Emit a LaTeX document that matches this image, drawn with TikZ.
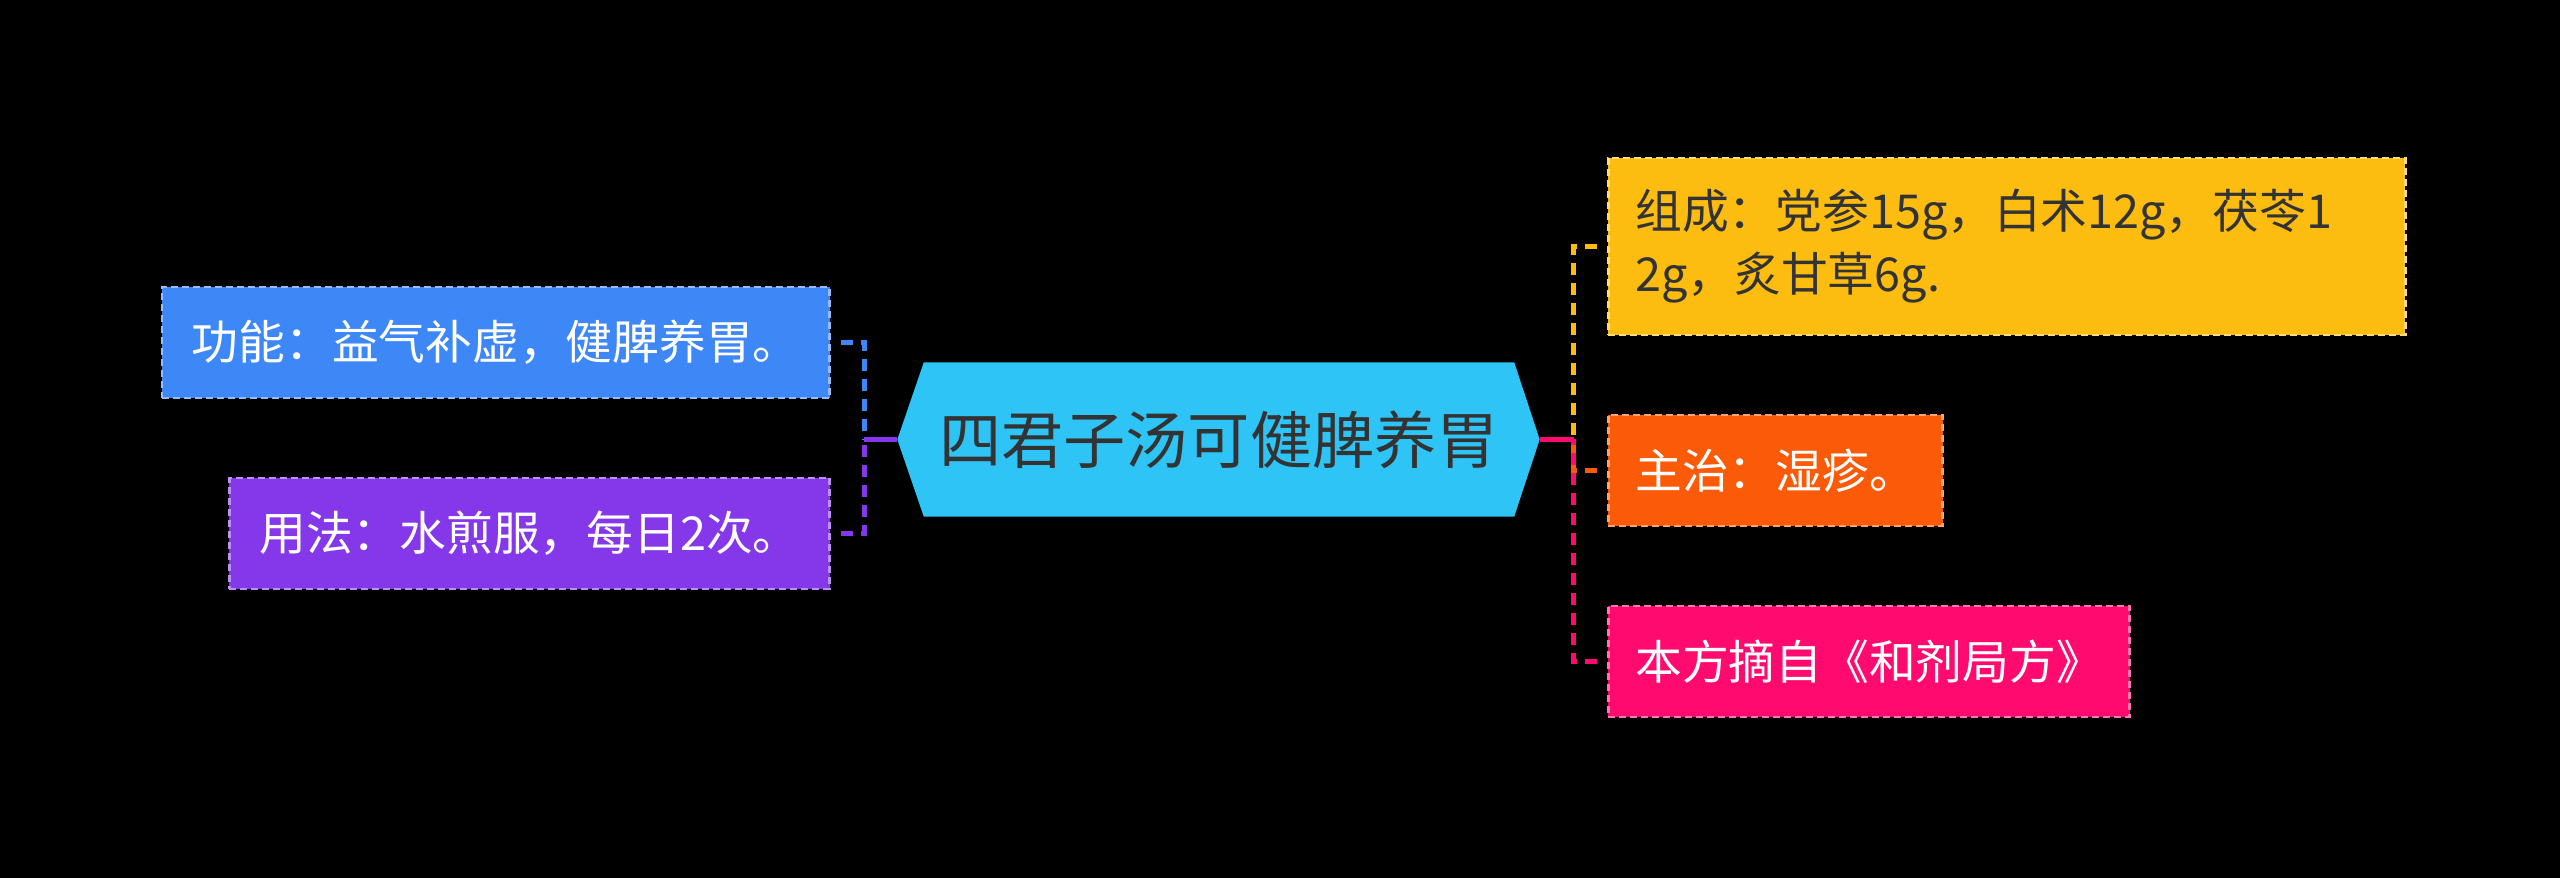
\documentclass[tikz,border=0pt]{standalone}
\usepackage{fontspec}
\setmainfont{Noto Sans CJK SC}
\usetikzlibrary{backgrounds}
\definecolor{hubcyan}{RGB}{46,196,245}
\definecolor{funcblue}{RGB}{61,135,247}
\definecolor{usepurple}{RGB}{132,56,234}
\definecolor{compyellow}{RGB}{253,189,16}
\definecolor{cureorange}{RGB}{251,90,8}
\definecolor{srcpink}{RGB}{255,10,110}
\definecolor{inkgray}{RGB}{51,51,51}
\tikzset{
  hub/.style={rectangle, draw=none, minimum width=5.89cm, minimum height=1.53cm,
              inner sep=0pt, text=inkgray, font=\fontsize{17.7}{22}\selectfont},
  leaf/.style={rectangle, fill=#1, draw=#1!55!white, line width=0.8pt,
               dash pattern=on 0.07cm off 0.04cm, minimum height=1.11cm,
               inner xsep=0.27cm, text=white, font=\fontsize{13.3}{17.9}\selectfont},
  link/.style={draw=#1, line width=1.3pt, dash pattern=on 0.12cm off 0.08cm},
  stem/.style={draw=#1, line width=1.3pt}
}

\begin{document}
\begin{tikzpicture}
\node[hub] (hub) at (12.19,4.385) {四君子汤可健脾养胃};
\coordinate (tipl) at ([xshift=-0.265cm]hub.west);
\coordinate (tipr) at ([xshift=0.255cm]hub.east);
\begin{scope}[on background layer]
  \fill[black] (0,0) rectangle (25.6,8.78);
  \fill[hubcyan] (hub.north west) -- (hub.north east) -- (tipr)
    -- (hub.south east) -- (hub.south west) -- (tipl) -- cycle;
\end{scope}
% left branch
\node[leaf=funcblue, anchor=east, inner xsep=0.3cm] (func) at (8.31,5.355) {功能：益气补虚，健脾养胃。};
\node[leaf=usepurple, anchor=east, inner xsep=0.3cm] (usage) at (8.31,3.445) {用法：水煎服，每日2次。};
% right branch
\node[leaf=compyellow, anchor=west, text=inkgray, text width=7.43cm, align=left,
      minimum height=1.77cm] (comp) at (16.07,6.315) {组成：党参15g，白术12g，茯苓1\\2g，炙甘草6g.};
\node[leaf=cureorange, anchor=west] (cure) at (16.07,4.075) {主治：湿疹。};
\node[leaf=srcpink, anchor=west] (src) at (16.07,2.165) {本方摘自《和剂局方》};
\coordinate (jl) at ([xshift=-0.33cm]tipl);
\coordinate (jr) at ([xshift=0.34cm]tipr);
\draw[link=funcblue] ([xshift=0.1cm]func.east) -| (jl);
\draw[link=usepurple] ([xshift=0.1cm]usage.east) -| (jl);
\draw[stem=usepurple] (tipl) -- (jl);
\draw[link=compyellow] ([xshift=-0.1cm]comp.west) -| (jr);
\draw[link=cureorange] ([xshift=-0.1cm]cure.west) -| (jr);
\draw[link=srcpink] ([xshift=-0.1cm]src.west) -| (jr);
\draw[stem=srcpink] (tipr) -- (jr);
\end{tikzpicture}
\end{document}
